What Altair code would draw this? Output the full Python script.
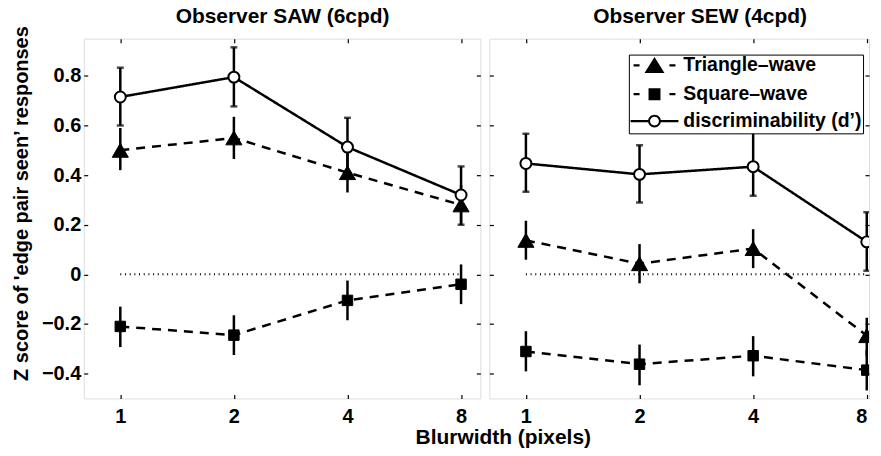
import altair as alt
import pandas as pd

# ---------------- data ----------------
BLUR = [1, 2, 4, 8]
SERIES = ["Triangle–wave", "Square–wave", "discriminability (d’)"]
Y_TICKS = [-0.4, -0.2, 0, 0.2, 0.4, 0.6, 0.8]

SAW_TRI = [0.50, 0.55, 0.41, 0.28]
SAW_TRI_LO = [0.42, 0.465, 0.33, 0.20]
SAW_TRI_HI = [0.59, 0.635, 0.49, 0.36]
SAW_SQ = [-0.21, -0.245, -0.105, -0.04]
SAW_SQ_LO = [-0.293, -0.325, -0.185, -0.12]
SAW_SQ_HI = [-0.13, -0.165, -0.025, 0.04]
SAW_D = [0.715, 0.795, 0.513, 0.32]
SAW_D_LO = [0.60, 0.677, 0.395, 0.20]
SAW_D_HI = [0.833, 0.915, 0.631, 0.435]

SEW_TRI = [0.137, 0.043, 0.104, -0.247]
SEW_TRI_LO = [0.059, -0.036, 0.025, -0.33]
SEW_TRI_HI = [0.216, 0.122, 0.182, -0.175]
SEW_SQ = [-0.311, -0.362, -0.328, -0.386]
SEW_SQ_LO = [-0.391, -0.447, -0.411, -0.468]
SEW_SQ_HI = [-0.229, -0.283, -0.249, -0.305]
SEW_D = [0.447, 0.403, 0.434, 0.131]
SEW_D_LO = [0.333, 0.29, 0.317, 0.015]
SEW_D_HI = [0.567, 0.52, 0.58, 0.25]

FONT = "Liberation Sans"
DASHES = [[9, 7], [9, 7], [1, 0]]

# legend glyphs (filled paths, unit coordinates scaled by the symbol size):
# short dash - marker - short dash, and line - open circle - line
DASH_L = "M-2.625,-0.14L-1.875,-0.14L-1.875,0.14L-2.625,0.14Z"
DASH_R = "M1.875,-0.14L2.625,-0.14L2.625,0.14L1.875,0.14Z"
PATH_TRI = DASH_L + DASH_R + "M0,-1.05L1.25,0.95L-1.25,0.95Z"
PATH_SQ = DASH_L + DASH_R + "M-0.75,-0.75L0.75,-0.75L0.75,0.75L-0.75,0.75Z"
PATH_D = ("M-3,-0.14L-0.75,-0.14L-0.75,0.14L-3,0.14Z"
          "M0.75,-0.14L3,-0.14L3,0.14L0.75,0.14Z"
          "M-0.81,0A0.81,0.81,0,1,1,0.81,0A0.81,0.81,0,1,1,-0.81,0Z"
          "M-0.56,0A0.56,0.56,0,1,0,0.56,0A0.56,0.56,0,1,0,-0.56,0Z")


def build(tri, tri_lo, tri_hi, sq, sq_lo, sq_hi, d, d_lo, d_hi):
    rows = []
    for name, v, lo, hi in zip(SERIES, [tri, sq, d], [tri_lo, sq_lo, d_lo], [tri_hi, sq_hi, d_hi]):
        for b, vv, l, h in zip(BLUR, v, lo, hi):
            rows.append({"blur": b, "series": name, "z": vv, "lo": l, "hi": h})
    return pd.DataFrame(rows)


saw = build(SAW_TRI, SAW_TRI_LO, SAW_TRI_HI, SAW_SQ, SAW_SQ_LO, SAW_SQ_HI, SAW_D, SAW_D_LO, SAW_D_HI)
sew = build(SEW_TRI, SEW_TRI_LO, SEW_TRI_HI, SEW_SQ, SEW_SQ_LO, SEW_SQ_HI, SEW_D, SEW_D_LO, SEW_D_HI)

TICK = dict(offset=-4, tickSize=4, domain=False, grid=False, tickColor="black", tickWidth=1.2,
            labelFont=FONT, labelFontSize=20, labelFontWeight="bold", labelColor="black")
TITLE_KW = dict(titleFont=FONT, titleFontWeight="bold", titleColor="black",
                titleBaseline="alphabetic", titleAlign="center")

LEGEND_KW = dict(
    orient="none", legendX=140, legendY=16, title=None,
    labelFont=FONT, labelFontSize=19.5, labelFontWeight="bold", labelColor="black", labelLimit=400,
    symbolSize=256, symbolOffset=15, labelOffset=19.2, rowPadding=6, padding=1,
    strokeColor="black", fillColor="white", symbolStrokeWidth=2, symbolStrokeColor="black",
    symbolFillColor="black", symbolOpacity=1,
)


def panel(df, title, width, xmax, left_labels, with_legend, title_x, x_title, clip):
    xs = alt.Scale(type="log", base=2, domain=[0.8, xmax], nice=False)
    ys = alt.Scale(domain=[-0.5, 0.95], nice=False, zero=False)

    bottom_kw = dict(orient="bottom", values=BLUR, format="d", labels=True, labelPadding=8,
                     labelFlush=8, **TICK)
    if x_title:
        bottom_kw.update(title=x_title, titleX=420.5, titleY=49, titleFontSize=21, **TITLE_KW)
    else:
        bottom_kw.update(title=None)
    x_bottom = alt.Axis(**bottom_kw)

    left_kw = dict(orient="left", values=Y_TICKS, labels=left_labels, labelPadding=3,
                   labelExpr="datum.value == 0 ? '0' : format(datum.value, '.1f')", **TICK)
    if left_labels:
        left_kw.update(title="Z score of 'edge pair seen’ responses", titleX=-60, titleY=165,
                       titleAngle=270, titleFontSize=20, **TITLE_KW)
    else:
        left_kw.update(title=None)
    y_left = alt.Axis(**left_kw)

    # top axis carries the panel title, right axis only ticks
    x_top = alt.Axis(orient="top", values=BLUR, labels=False, title=title, titleX=title_x, titleY=-20,
                     titleFontSize=21, **TITLE_KW, **TICK)
    y_right = alt.Axis(orient="right", values=Y_TICKS, labels=False, title=None, **TICK)

    zero_df = pd.DataFrame({"x": [min(BLUR)], "x2": [max(BLUR)], "y": [0]})
    zero = alt.Chart(zero_df).mark_rule(color="black", strokeWidth=2, strokeDash=[1, 3.7]).encode(
        x=alt.X("x:Q", scale=xs, axis=x_top),
        x2="x2:Q",
        y=alt.Y("y:Q", scale=ys, axis=y_right),
    )

    base = alt.Chart(df)

    def one(name):
        return base.transform_filter(alt.datum.series == name)

    lines = []
    for i, (name, dash) in enumerate(zip(SERIES, DASHES)):
        lines.append(one(name).mark_line(color="black", strokeWidth=2.5, strokeDash=dash).encode(
            x=alt.X("blur:Q", scale=xs, axis=x_bottom if i == 0 else None),
            y=alt.Y("z:Q", scale=ys, axis=y_left if i == 0 else None),
        ))

    bars = base.mark_rule(color="black", strokeWidth=2.5).encode(
        x=alt.X("blur:Q", scale=xs, axis=None),
        y=alt.Y("lo:Q", scale=ys, axis=None),
        y2="hi:Q",
    )
    dd = one(SERIES[2])
    cap_lo = dd.mark_tick(orient="horizontal", size=7, thickness=2.5, color="black", clip=clip).encode(
        x=alt.X("blur:Q", scale=xs, axis=None), y=alt.Y("lo:Q", scale=ys, axis=None))
    cap_hi = dd.mark_tick(orient="horizontal", size=7, thickness=2.5, color="black", clip=clip).encode(
        x=alt.X("blur:Q", scale=xs, axis=None), y=alt.Y("hi:Q", scale=ys, axis=None))

    def pts(name, shape, fill, size, sw):
        return one(name).mark_point(
            shape=shape, filled=True, fill=fill, stroke="black", strokeWidth=sw, size=size, opacity=1,
            clip=clip,
        ).encode(x=alt.X("blur:Q", scale=xs, axis=None), y=alt.Y("z:Q", scale=ys, axis=None))

    layers = [zero] + lines + [bars, cap_lo, cap_hi,
                               pts(SERIES[0], "triangle-up", "black", 260, 1),
                               pts(SERIES[1], "square", "black", 110, 1),
                               pts(SERIES[2], "circle", "white", 121, 2)]

    if with_legend:
        leg = base.transform_filter("false").mark_point(
            filled=True, color="black", size=256, opacity=1
        ).encode(
            shape=alt.Shape("series:N", scale=alt.Scale(domain=SERIES, range=[PATH_TRI, PATH_SQ, PATH_D]),
                            legend=alt.Legend(**LEGEND_KW)),
        )
        layers.append(leg)

    return alt.layer(*layers).properties(width=width, height=361)


left = panel(saw, "Observer SAW (6cpd)", 398, 9.0, True, False, 199, "Blurwidth (pixels)", False)
right = panel(sew, "Observer SEW (4cpd)", 381, 8.11, False, True, 211, None, True)

chart = alt.hconcat(left, right, spacing=9, bounds="flush").resolve_scale(
    shape="independent"
).resolve_legend(shape="independent").properties(
    padding={"left": 3, "top": -4, "right": 0, "bottom": 0}
).configure_view(stroke="black", strokeWidth=2).configure(background="white")

chart.save("out.html", embed_options={"renderer": "svg", "actions": False})
